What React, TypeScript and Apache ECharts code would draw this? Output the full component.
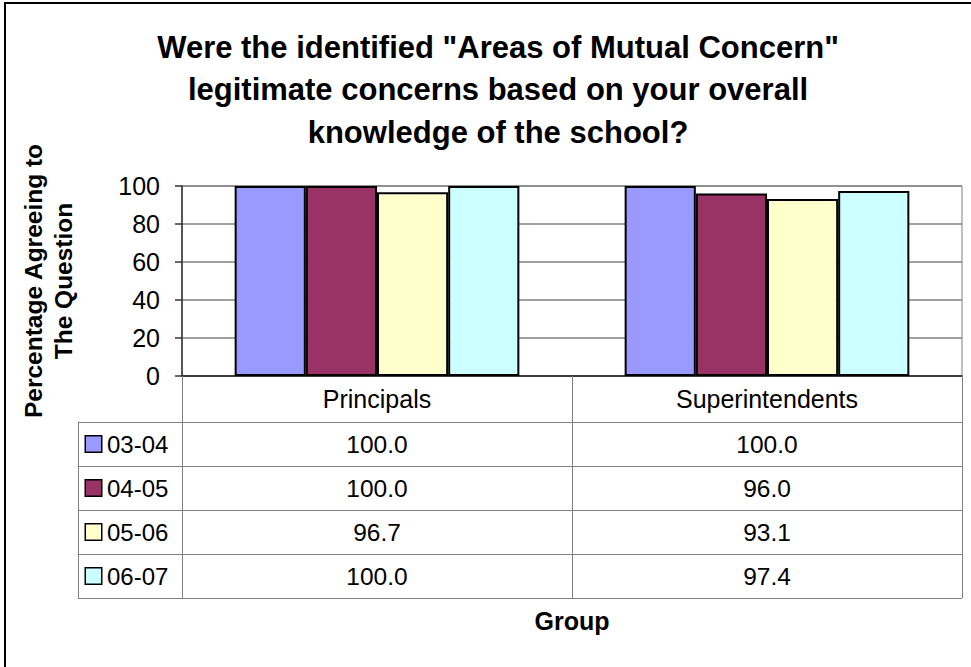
import React, { useEffect, useRef } from "react";
import * as echarts from "echarts";

const categories = ["Principals", "Superintendents"];
const seriesNames = ["03-04", "04-05", "05-06", "06-07"];
const values0304 = [100.0, 100.0];
const values0405 = [100.0, 96.0];
const values0506 = [96.7, 93.1];
const values0607 = [100.0, 97.4];
const seriesColors = ["#9999FF", "#993366", "#FFFFCC", "#CCFFFF"];
const titleLines = [
  'Were the identified "Areas of Mutual Concern"',
  "legitimate concerns based on your overall",
  "knowledge of the school?",
];
const yAxisNameLines = ["Percentage Agreeing to", "The Question"];
const xAxisName = "Group";

const FONT = "'Liberation Sans', Arial, Helvetica, sans-serif";

export default function App() {
  const ref = useRef<HTMLDivElement>(null);
  useEffect(() => {
    if (!ref.current) return;
    const chart = echarts.init(ref.current, undefined, { renderer: "svg" });
    const allValues = [values0304, values0405, values0506, values0607];

    const rich: Record<string, any> = {
      t: { fontSize: 24, fontFamily: FONT, color: "#000", padding: [0, 0, 0, 6] },
    };
    seriesNames.forEach((_, i) => {
      rich["s" + i] = {
        width: 15,
        height: 15,
        backgroundColor: seriesColors[i],
        borderColor: "#000",
        borderWidth: 1.5,
      };
    });

    const tableData: any[] = [];
    allValues.forEach((vals, si) => {
      vals.forEach((v, ci) => tableData.push([ci, si, v]));
    });

    chart.setOption({
      animation: false,
      backgroundColor: "#fff",
      title: {
        text: titleLines.join("\n"),
        left: 493,
        top: 21,
        textAlign: "center",
        textStyle: {
          fontFamily: FONT,
          fontSize: 31,
          fontWeight: "bold",
          color: "#000",
          lineHeight: 42.5,
        },
      },
      graphic: [
        {
          type: "rect",
          shape: { x: 5, y: 3, width: 1000, height: 700 },
          style: { fill: "none", stroke: "#000", lineWidth: 2 },
          silent: true,
        },
      ],
      grid: [
        {
          left: 182,
          top: 186,
          width: 780,
          height: 190,
          show: true,
          borderColor: "#808080",
          borderWidth: 1,
          backgroundColor: "transparent",
          containLabel: false,
          outerBoundsMode: "none",
        },
        {
          left: 182,
          top: 422,
          width: 780,
          height: 176,
          containLabel: false,
          outerBoundsMode: "none",
        },
      ],
      xAxis: [
        {
          type: "category",
          gridIndex: 0,
          data: categories,
          axisLine: { show: true, lineStyle: { color: "#222", width: 1.5 } },
          axisTick: { show: true, length: 222, lineStyle: { color: "#808080", width: 1 } },
          axisLabel: {
            fontFamily: FONT,
            fontSize: 25,
            color: "#000",
            margin: 10,
          },
          splitLine: { show: false },
          name: xAxisName,
          nameLocation: "middle",
          nameGap: 232,
          nameTextStyle: { fontFamily: FONT, fontSize: 25, fontWeight: "bold", color: "#000" },
        },
        {
          type: "category",
          gridIndex: 1,
          data: categories,
          axisLine: { show: false },
          axisTick: { show: false },
          axisLabel: { show: false },
          splitLine: { show: false },
        },
      ],
      yAxis: [
        {
          type: "value",
          gridIndex: 0,
          min: 0,
          max: 100,
          interval: 20,
          axisLine: { show: true, lineStyle: { color: "#333", width: 1.5 } },
          axisTick: { show: true, length: 7, lineStyle: { color: "#333", width: 1.5 } },
          axisLabel: { fontFamily: FONT, fontSize: 25, color: "#000", margin: 22 },
          splitLine: { show: true, lineStyle: { color: "#808080", width: 1.5 } },
          name: yAxisNameLines.join("\n"),
          nameLocation: "middle",
          nameRotate: 90,
          nameGap: 104,
          nameTextStyle: {
            fontFamily: FONT,
            fontSize: 24.5,
            fontWeight: "bold",
            color: "#000",
            lineHeight: 30,
          },
        },
        {
          type: "category",
          gridIndex: 1,
          inverse: true,
          data: seriesNames,
          axisLine: { show: true, lineStyle: { color: "#808080", width: 1 } },
          axisTick: { show: true, length: 104, lineStyle: { color: "#808080", width: 1 } },
          axisLabel: {
            align: "left",
            margin: 96,
            formatter: (name: string, idx: number) => `{s${idx}|}{t|${name}}`,
            rich,
          },
          splitLine: { show: true, lineStyle: { color: "#808080", width: 1 } },
        },
        {
          type: "value",
          gridIndex: 1,
          position: "left",
          offset: 104,
          axisLine: { show: true, onZero: false, lineStyle: { color: "#808080", width: 1 } },
          axisTick: { show: false },
          axisLabel: { show: false },
          splitLine: { show: false },
        },
      ],
      series: [
        ...seriesNames.map((name, i) => ({
          type: "bar",
          name,
          xAxisIndex: 0,
          yAxisIndex: 0,
          data: allValues[i],
          barGap: "0%",
          barCategoryGap: "27%",
          itemStyle: { color: seriesColors[i], borderColor: "#000", borderWidth: 2 },
        })),
        {
          type: "scatter",
          xAxisIndex: 1,
          yAxisIndex: 1,
          data: tableData,
          symbolSize: 1,
          itemStyle: { color: "#fff", opacity: 1 },
          label: {
            show: true,
            position: "inside",
            formatter: (p: any) => Number(p.value[2]).toFixed(1),
            fontFamily: FONT,
            fontSize: 24.5,
            color: "#000",
            opacity: 1,
            textBorderWidth: 0,
          },
          silent: true,
        },
      ],
    });
    return () => chart.dispose();
  }, []);
  return (
    <div
      ref={ref}
      style={{ position: "absolute", left: 0, top: 0, width: 971, height: 667 }}
    />
  );
}
